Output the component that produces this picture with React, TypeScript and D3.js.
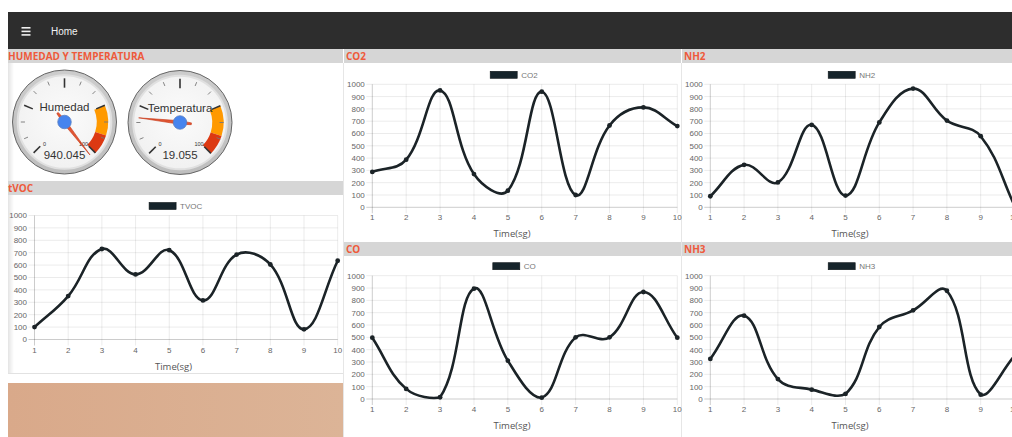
import React from "react";
import * as d3 from "d3";

// ---------- data ----------
const timeLabels = ["1", "2", "3", "4", "5", "6", "7", "8", "9", "10"];
const tvocValues = [100, 350, 730, 525, 720, 315, 685, 605, 82, 635];
const co2Values = [288, 387, 950, 270, 135, 940, 100, 665, 812, 660];
const nh2Values = [90, 345, 202, 670, 95, 690, 965, 705, 578, 15];
const coValues = [497, 82, 14, 895, 311, 11, 500, 500, 868, 497];
const nh3Values = [325, 676, 162, 76, 41, 584, 719, 878, 35, 350];
const yDomain = [0, 1000];

const gaugeLabels = ["Humedad", "Temperatura"];
const gaugeValues = [940.045, 19.055];
const gaugeRange = [0, 100];
const yellowZone = [75, 90];
const redZone = [90, 100];

const sectionTitles = ["HUMEDAD Y TEMPERATURA", "tVOC", "CO2", "NH2", "CO", "NH3"];
const xAxisTitle = "Time(sg)";
const navTitle = "Home";

// ---------- helpers ----------
type P = { x: number; y: number };

function chartjsSpline(pts: P[], t: number, area: { left: number; right: number; top: number; bottom: number }) {
  const cps = pts.map((p1, i) => {
    const p0 = i > 0 ? pts[i - 1] : p1;
    const p2 = i < pts.length - 1 ? pts[i + 1] : p1;
    const d01 = Math.hypot(p1.x - p0.x, p1.y - p0.y);
    const d12 = Math.hypot(p2.x - p1.x, p2.y - p1.y);
    let s01 = d01 / (d01 + d12);
    let s12 = d12 / (d01 + d12);
    if (isNaN(s01)) s01 = 0;
    if (isNaN(s12)) s12 = 0;
    const fa = t * s01;
    const fb = t * s12;
    const cap = (q: P) => ({
      x: Math.max(area.left, Math.min(area.right, q.x)),
      y: Math.max(area.top, Math.min(area.bottom, q.y)),
    });
    return {
      prev: cap({ x: p1.x - fa * (p2.x - p0.x), y: p1.y - fa * (p2.y - p0.y) }),
      next: cap({ x: p1.x + fb * (p2.x - p0.x), y: p1.y + fb * (p2.y - p0.y) }),
    };
  });
  const path = d3.path();
  pts.forEach((p, i) => {
    if (i === 0) path.moveTo(p.x, p.y);
    else
      path.bezierCurveTo(cps[i - 1].next.x, cps[i - 1].next.y, cps[i].prev.x, cps[i].prev.y, p.x, p.y);
  });
  return path.toString();
}

const TICK_FONT = "'Liberation Sans', Arial, Helvetica, sans-serif";
const TITLE_FONT = "'Open Sans', 'Liberation Sans', sans-serif";
const LINE_COLOR = "#1b2327";
const HEADER_BG = "#d6d6d6";
const HEADER_TEXT = "#ee5a3b";

type ChartProps = {
  id: string;
  name: string;
  values: number[];
  left: number;
  right: number;
  top: number;
  bottom: number;
  cx: number;
};

function LineChart({ id, name, values, left, right, top, bottom, cx }: ChartProps) {
  const x = d3.scalePoint<string>().domain(timeLabels).range([left, right]);
  const y = d3.scaleLinear().domain(yDomain).range([bottom, top]);
  const pts = values.map((v, i) => ({ x: x(timeLabels[i]) as number, y: y(v) }));
  const d = chartjsSpline(pts, 0.4, { left, right, top, bottom });
  const yTicks = y.ticks(10);
  const textW = name.length * 5.2;
  const boxW = 27;
  const legendStart = cx - (boxW + 4 + textW) / 2;
  return (
    <g>
      <defs>
        <clipPath id={`clip-${id}`}>
          <rect x={left - 3} y={top - 3} width={right - left + 6} height={bottom - top + 6} />
        </clipPath>
      </defs>
      {/* legend */}
      <rect x={legendStart} y={top - 13} width={boxW} height={7} fill="#16242b" stroke="#0e1418" strokeWidth={0.6} />
      <text x={legendStart + boxW + 4} y={top - 6.6} fontSize={8} fill="#777" fontFamily={TICK_FONT}>
        {name}
      </text>
      {/* horizontal grid */}
      {yTicks.map((t) => (
        <line
          key={`h${t}`}
          x1={left - 6}
          x2={right}
          y1={y(t)}
          y2={y(t)}
          stroke={t === 0 ? "rgba(0,0,0,0.25)" : "rgba(0,0,0,0.1)"}
          strokeWidth={0.8}
        />
      ))}
      {/* vertical grid */}
      {timeLabels.map((l, i) => (
        <line
          key={`v${l}`}
          x1={x(l)}
          x2={x(l)}
          y1={top}
          y2={bottom + 6}
          stroke={i === 0 ? "rgba(0,0,0,0.25)" : "rgba(0,0,0,0.1)"}
          strokeWidth={0.8}
        />
      ))}
      {/* y tick labels */}
      {yTicks.map((t) => (
        <text
          key={`yl${t}`}
          x={left - 7.5}
          y={y(t) + 2.9}
          textAnchor="end"
          fontSize={8}
          fill="#666"
          fontFamily={TICK_FONT}
        >
          {t}
        </text>
      ))}
      {/* x tick labels */}
      {timeLabels.map((l) => (
        <text
          key={`xl${l}`}
          x={x(l)}
          y={bottom + 13}
          textAnchor="middle"
          fontSize={8}
          fill="#666"
          fontFamily={TICK_FONT}
        >
          {l}
        </text>
      ))}
      {/* axis title */}
      <text
        x={cx - 1.5}
        y={bottom + 30}
        textAnchor="middle"
        fontSize={9.5}
        fill="#555"
        fontFamily={TITLE_FONT}
      >
        {xAxisTitle}
      </text>
      {/* line */}
      <g clipPath={`url(#clip-${id})`}>
        <path d={d} fill="none" stroke={LINE_COLOR} strokeWidth={2.6} strokeLinejoin="round" />
        {pts.map((p, i) => (
          <circle key={`p${i}`} cx={p.x} cy={p.y} r={2.4} fill={LINE_COLOR} />
        ))}
      </g>
    </g>
  );
}

type GaugeProps = { cx: number; cy: number; r: number; label: string; value: number };

function Gauge({ cx, cy, r, label, value }: GaugeProps) {
  const [min, max] = gaugeRange;
  const ang = d3.scaleLinear().domain([min, max]).range([-135, 135]);
  const rad = (deg: number) => (deg * Math.PI) / 180;
  const pt = (deg: number, rr: number) => ({
    x: cx + rr * Math.sin(rad(deg)),
    y: cy - rr * Math.cos(rad(deg)),
  });
  const zoneArc = d3.arc<any>().innerRadius(0.62 * r).outerRadius(0.84 * r);
  const span = max - min;
  const majors = d3.range(0, 5).map((i) => min + (i * span) / 4);
  const minors: number[] = [];
  for (let i = 0; i < 4; i++) {
    for (let k = 1; k <= 2; k++) minors.push(min + (i * span) / 4 + (k * span) / 12);
  }
  const clamped = Math.max(min - span * 0.027, Math.min(max + span * 0.027, value));
  const a = ang(clamped);
  const tip = pt(a, 0.8 * r);
  const tail = pt(a + 180, 0.22 * r);
  const sideA = pt(a + 90, 1.8);
  const sideB = pt(a - 90, 1.8);
  const tailA = { x: tail.x + (sideA.x - cx) * 0.5, y: tail.y + (sideA.y - cy) * 0.5 };
  const tailB = { x: tail.x + (sideB.x - cx) * 0.5, y: tail.y + (sideB.y - cy) * 0.5 };
  const needle = `M${tip.x},${tip.y} L${sideA.x},${sideA.y} L${tailA.x},${tailA.y} L${tailB.x},${tailB.y} L${sideB.x},${sideB.y} Z`;
  const minLbl = pt(ang(min), 0.6 * r);
  const maxLbl = pt(ang(max), 0.6 * r);
  return (
    <g>
      <circle cx={cx} cy={cy} r={r} fill="url(#ringGrad)" stroke="#666" strokeWidth={1} />
      <circle cx={cx} cy={cy} r={0.9 * r} fill="url(#faceGrad)" stroke="#e0e0e0" strokeWidth={2} />
      <path
        d={zoneArc({ startAngle: rad(ang(yellowZone[0])), endAngle: rad(ang(yellowZone[1])) }) as string}
        transform={`translate(${cx},${cy})`}
        fill="#ff9900"
      />
      <path
        d={zoneArc({ startAngle: rad(ang(redZone[0])), endAngle: rad(ang(redZone[1])) }) as string}
        transform={`translate(${cx},${cy})`}
        fill="#dc3912"
      />
      {minors.map((m, i) => {
        const p1 = pt(ang(m), 0.76 * r);
        const p2 = pt(ang(m), 0.84 * r);
        return <line key={`mi${i}`} x1={p1.x} y1={p1.y} x2={p2.x} y2={p2.y} stroke="#777" strokeWidth={0.9} />;
      })}
      {majors.map((m, i) => {
        const p1 = pt(ang(m), 0.66 * r);
        const p2 = pt(ang(m), 0.84 * r);
        return <line key={`ma${i}`} x1={p1.x} y1={p1.y} x2={p2.x} y2={p2.y} stroke="#333" strokeWidth={1.6} />;
      })}
      <text x={minLbl.x + 2} y={minLbl.y + 1.5} fontSize={5.5} fill="#333" textAnchor="middle" fontFamily={TICK_FONT}>
        {min}
      </text>
      <text x={maxLbl.x - 3} y={maxLbl.y + 1.5} fontSize={5.5} fill="#333" textAnchor="middle" fontFamily={TICK_FONT}>
        {max}
      </text>
      <text x={cx} y={cy - 11} fontSize={11.5} fill="#333" textAnchor="middle" fontFamily={TICK_FONT}>
        {label}
      </text>
      <text x={cx} y={cy + 36.5} fontSize={11.5} fill="#333" textAnchor="middle" fontFamily={TICK_FONT}>
        {value}
      </text>
      <path d={needle} fill="#dc3912" fillOpacity={0.85} stroke="#c63310" strokeWidth={0.6} />
      <circle cx={cx} cy={cy} r={0.13 * r} fill="#4684ee" stroke="#5a7fc0" strokeWidth={0.8} />
    </g>
  );
}

function Header({ x, y, w, text }: { x: number; y: number; w: number; text: string }) {
  return (
    <g>
      <rect x={x} y={y} width={w} height={14} fill={HEADER_BG} />
      <text
        x={x + (x < 10 ? 0 : 2)}
        y={y + 10.6}
        fontSize={10}
        fontWeight={700}
        fill={HEADER_TEXT}
        fontFamily={TITLE_FONT}
      >
        {text}
      </text>
    </g>
  );
}

export default function App() {
  return (
    <svg
      width={1012}
      height={437}
      style={{ position: "absolute", left: 0, top: 0, display: "block" }}
      xmlns="http://www.w3.org/2000/svg"
    >
      <defs>
        <radialGradient id="ringGrad" cx="50%" cy="40%" r="60%">
          <stop offset="0%" stopColor="#e6e6e6" />
          <stop offset="100%" stopColor="#bdbdbd" />
        </radialGradient>
        <radialGradient id="faceGrad" cx="50%" cy="45%" r="55%">
          <stop offset="0%" stopColor="#fbfbfb" />
          <stop offset="100%" stopColor="#f1f1f1" />
        </radialGradient>
        <linearGradient id="leftShade" x1="0" x2="1" y1="0" y2="0">
          <stop offset="0%" stopColor="#e4e4e4" />
          <stop offset="100%" stopColor="#ffffff" />
        </linearGradient>
        <linearGradient id="tanGrad" x1="0" x2="1" y1="0" y2="0">
          <stop offset="0%" stopColor="#d9a98a" />
          <stop offset="100%" stopColor="#dcb497" />
        </linearGradient>
      </defs>
      <rect x={0} y={0} width={1012} height={437} fill="#ffffff" />

      {/* navbar */}
      <rect x={8} y={12} width={1004} height={37} fill="#2d2d2d" />
      <rect x={21.5} y={27} width={9} height={1.6} fill="#f0f0f0" />
      <rect x={21.5} y={30.6} width={9} height={1.6} fill="#f0f0f0" />
      <rect x={21.5} y={34.1} width={9} height={1.6} fill="#f0f0f0" />
      <text x={51} y={35} fontSize={10} fill="#f2f2f2" fontFamily={TICK_FONT}>
        {navTitle}
      </text>

      {/* left column */}
      <rect x={8} y={63} width={6} height={310} fill="url(#leftShade)" />
      <Header x={8} y={49} w={335} text={sectionTitles[0]} />
      <Header x={8} y={181} w={335} text={sectionTitles[1]} />
      <line x1={8} x2={343} y1={373.5} y2={373.5} stroke="#e2e2e2" strokeWidth={1} />
      <rect x={8} y={383} width={335} height={54} fill="url(#tanGrad)" />

      {/* column separators */}
      <line x1={343.5} x2={343.5} y1={63} y2={437} stroke="#e6e6e6" strokeWidth={1} />
      <line x1={681.5} x2={681.5} y1={63} y2={437} stroke="#e6e6e6" strokeWidth={1} />

      <Header x={344} y={49} w={337} text={sectionTitles[2]} />
      <Header x={682} y={49} w={330} text={sectionTitles[3]} />
      <Header x={344} y={242} w={337} text={sectionTitles[4]} />
      <Header x={682} y={242} w={330} text={sectionTitles[5]} />

      {/* gauges */}
      <Gauge cx={64.5} cy={122} r={52} label={gaugeLabels[0]} value={gaugeValues[0]} />
      <Gauge cx={180} cy={122.5} r={52} label={gaugeLabels[1]} value={gaugeValues[1]} />

      {/* charts */}
      <LineChart id="tvoc" name="TVOC" values={tvocValues} left={34.5} right={337.7} top={215.5} bottom={339.5} cx={175} />
      <LineChart id="co2" name="CO2" values={co2Values} left={372.3} right={677.3} top={84.3} bottom={207.3} cx={513.5} />
      <LineChart id="nh2" name="NH2" values={nh2Values} left={710.3} right={1014.5} top={84.3} bottom={207.3} cx={851.5} />
      <LineChart id="co" name="CO" values={coValues} left={372.3} right={677.3} top={275.7} bottom={399} cx={513.5} />
      <LineChart id="nh3" name="NH3" values={nh3Values} left={710.3} right={1014.5} top={275.7} bottom={399} cx={851.5} />
    </svg>
  );
}
